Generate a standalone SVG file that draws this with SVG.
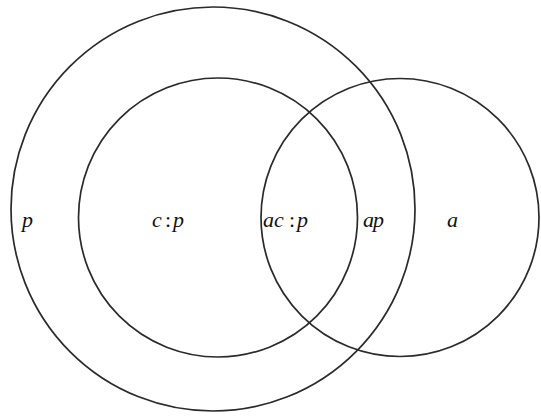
<svg xmlns="http://www.w3.org/2000/svg" width="541" height="416" viewBox="0 0 541 416">
<style>
.c{fill:none;stroke:#2a2a2a;stroke-width:1.7}
.t{font-family:"Liberation Serif","DejaVu Serif",serif;font-style:italic;font-size:22px;fill:#111}
.n{font-style:normal}
</style>
<rect width="541" height="416" fill="#fff"/>
<g id="p-circle"><circle class="c" cx="213" cy="209" r="202"/></g>
<g id="c-circle"><circle class="c" cx="218" cy="217.5" r="139.5"/></g>
<g id="a-circle"><circle class="c" cx="400" cy="217.5" r="139"/></g>
<g id="connectors"></g>
<g id="labels">
<text class="t" x="22" y="227">p</text>
<text class="t" y="227"><tspan x="152">c</tspan><tspan class="n" x="165">:</tspan><tspan x="173">p</tspan></text>
<text class="t" y="227"><tspan x="263">a</tspan><tspan x="274">c</tspan><tspan class="n" x="289">:</tspan><tspan x="297">p</tspan></text>
<text class="t" y="227"><tspan x="363">a</tspan><tspan x="373">p</tspan></text>
<text class="t" x="447" y="227">a</text>
</g>
</svg>
